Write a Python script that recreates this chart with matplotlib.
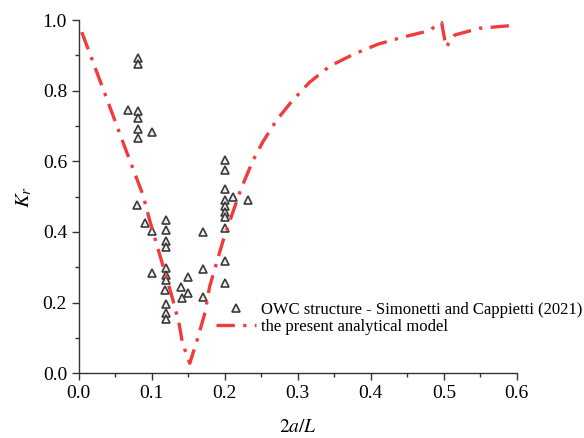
import matplotlib
matplotlib.use("Agg")
from matplotlib import pyplot as plt
from matplotlib.ticker import MultipleLocator, FormatStrFormatter

plt.rcParams['font.family'] = ['Liberation Serif', 'DejaVu Serif']
plt.rcParams['mathtext.fontset'] = 'stix'

# experimental data (Simonetti and Cappietti 2021)
exp_x = [0.081, 0.081, 0.068, 0.081, 0.081, 0.081, 0.100, 0.081, 0.079, 0.090,
         0.120, 0.100, 0.120, 0.120, 0.120, 0.170, 0.232, 0.200, 0.200, 0.200,
         0.211, 0.200, 0.200, 0.200, 0.200, 0.200, 0.100, 0.120, 0.120, 0.120,
         0.118, 0.149, 0.170, 0.200, 0.140, 0.149, 0.141, 0.170, 0.200, 0.120,
         0.120, 0.120]
exp_y = [0.893, 0.876, 0.745, 0.742, 0.722, 0.691, 0.683, 0.666, 0.476, 0.425,
         0.433, 0.403, 0.405, 0.374, 0.357, 0.399, 0.490, 0.603, 0.575, 0.521,
         0.499, 0.490, 0.473, 0.456, 0.442, 0.411, 0.283, 0.297, 0.277, 0.263,
         0.235, 0.272, 0.294, 0.317, 0.244, 0.226, 0.212, 0.215, 0.255, 0.195,
         0.170, 0.153]

# analytical model
model_x = [0.004, 0.038, 0.063, 0.088, 0.097, 0.127, 0.137, 0.142, 0.152,
           0.163, 0.173, 0.179, 0.189, 0.199, 0.222, 0.238, 0.252, 0.270,
           0.292, 0.316, 0.344, 0.377, 0.410, 0.444, 0.478, 0.497, 0.503,
           0.515, 0.549, 0.600]
model_y = [0.966, 0.779, 0.640, 0.504, 0.433, 0.221, 0.144, 0.085, 0.028,
           0.100, 0.173, 0.244, 0.315, 0.385, 0.521, 0.600, 0.655, 0.714,
           0.771, 0.824, 0.870, 0.904, 0.932, 0.952, 0.969, 0.993, 0.924,
           0.958, 0.977, 0.986]

fig = plt.figure(figsize=(5.84, 4.38), dpi=100)
ax = fig.add_axes([0.135, 0.148, 0.75, 0.806])

ax.plot(exp_x, exp_y, linestyle='none', marker='^', markersize=5.5,
        mfc='#eeeeee', mec='#3a3a3a', mew=1.2,
        label='OWC structure - Simonetti and Cappietti (2021)')
ax.plot(model_x, model_y, color='#f03c3c', lw=2.4, dashes=[5.5, 2.5, 1, 2.5],
        label='the present analytical model')

ax.set_xlim(0, 0.6)
ax.set_ylim(0, 1.0)
ax.xaxis.set_major_locator(MultipleLocator(0.1))
ax.xaxis.set_minor_locator(MultipleLocator(0.05))
ax.yaxis.set_major_locator(MultipleLocator(0.2))
ax.yaxis.set_minor_locator(MultipleLocator(0.1))
ax.xaxis.set_major_formatter(FormatStrFormatter('%.1f'))
ax.yaxis.set_major_formatter(FormatStrFormatter('%.1f'))

for s in ['top', 'right']:
    ax.spines[s].set_visible(False)
for s in ['left', 'bottom']:
    ax.spines[s].set_color('#333333')
    ax.spines[s].set_linewidth(1.0)
ax.tick_params(which='major', direction='out', length=5, width=1,
               colors='#333333', labelsize=14, labelcolor='black')
ax.tick_params(which='minor', direction='out', length=3, width=1,
               colors='#333333')

ax.set_xlabel('$2a/L$', fontsize=14, labelpad=12)
ax.set_ylabel('$K_r$', fontsize=15, labelpad=6)

ax.legend(loc='lower left', bbox_to_anchor=(0.28, 0.066), frameon=False,
          fontsize=12, handlelength=2.4, handletextpad=0.3, labelspacing=0.05,
          borderaxespad=0.5)

fig.savefig('out.png', dpi=100)
